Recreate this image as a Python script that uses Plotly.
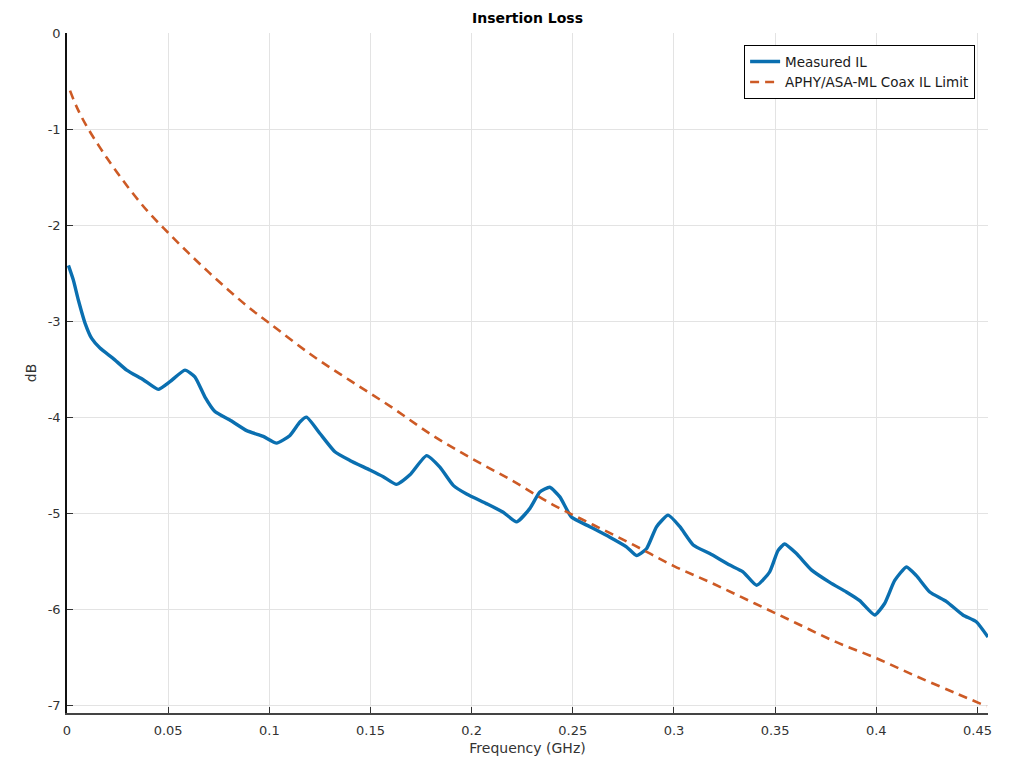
import plotly.graph_objects as go

# Measured insertion loss
meas_f = [0.0007, 0.0031, 0.0056, 0.0089, 0.0122, 0.0163, 0.0229, 0.0295, 0.0377, 0.0451,
          0.0509, 0.0583, 0.0632, 0.0682, 0.0731, 0.0805, 0.0888, 0.0970, 0.1036, 0.1102,
          0.1151, 0.1184, 0.1250, 0.1324, 0.1398, 0.1497, 0.1563, 0.1629, 0.1695, 0.1777,
          0.1843, 0.1909, 0.1975, 0.2073, 0.2156, 0.2222, 0.2288, 0.2337, 0.2386, 0.2436,
          0.2493, 0.2584, 0.2683, 0.2765, 0.2815, 0.2864, 0.2914, 0.2971, 0.3029, 0.3095,
          0.3177, 0.3276, 0.3341, 0.3408, 0.3473, 0.3514, 0.3547, 0.3605, 0.3679, 0.3770,
          0.3852, 0.3918, 0.3992, 0.4041, 0.4091, 0.4149, 0.4198, 0.4264, 0.4347, 0.4428,
          0.4494, 0.4552]
meas_db = [-2.42, -2.57, -2.78, -3.02, -3.18, -3.28, -3.39, -3.51, -3.61, -3.71,
           -3.63, -3.51, -3.58, -3.79, -3.94, -4.03, -4.14, -4.20, -4.27, -4.19,
           -4.05, -4.00, -4.17, -4.36, -4.45, -4.55, -4.62, -4.70, -4.60, -4.40,
           -4.52, -4.71, -4.80, -4.90, -4.99, -5.09, -4.95, -4.78, -4.73, -4.83,
           -5.04, -5.14, -5.25, -5.35, -5.44, -5.37, -5.14, -5.02, -5.14, -5.33,
           -5.42, -5.54, -5.61, -5.75, -5.61, -5.39, -5.32, -5.42, -5.59, -5.72,
           -5.82, -5.91, -6.06, -5.94, -5.70, -5.56, -5.65, -5.82, -5.92, -6.06,
           -6.13, -6.29]

# APHY/ASA-ML coax IL limit
lim_f = [0.0015, 0.005, 0.01, 0.02, 0.03, 0.04, 0.05, 0.06, 0.07, 0.08, 0.09, 0.10,
         0.12, 0.14, 0.16, 0.18, 0.20, 0.22, 0.24, 0.26, 0.28, 0.30, 0.32, 0.34,
         0.36, 0.38, 0.40, 0.42, 0.44, 0.4545]
lim_db = [-0.60, -0.78, -0.98, -1.31, -1.60, -1.86, -2.08, -2.29, -2.49, -2.68, -2.86, -3.02,
          -3.34, -3.62, -3.89, -4.18, -4.43, -4.66, -4.91, -5.12, -5.33, -5.55, -5.74, -5.94,
          -6.14, -6.34, -6.51, -6.70, -6.88, -7.01]

x_ticks = [0, 0.05, 0.1, 0.15, 0.2, 0.25, 0.3, 0.35, 0.4, 0.45]
x_tick_text = ["0", "0.05", "0.1", "0.15", "0.2", "0.25", "0.3", "0.35", "0.4", "0.45"]
y_ticks = [0, -1, -2, -3, -4, -5, -6, -7]
y_tick_text = ["0", "-1", "-2", "-3", "-4", "-5", "-6", "-7"]

FONT = "DejaVu Sans"

fig = go.Figure()
fig.add_trace(go.Scatter(
    x=meas_f, y=meas_db, mode="lines", name="Measured IL",
    line=dict(color="#0A6FB0", width=3.4, shape="spline", smoothing=0.5)))
fig.add_trace(go.Scatter(
    x=lim_f, y=lim_db, mode="lines", name="APHY/ASA-ML Coax IL Limit",
    line=dict(color="#CD5A25", width=2.6, dash="9px,6px", shape="spline")))

fig.update_layout(
    width=1009, height=761,
    margin=dict(l=67, r=21, t=33, b=48, autoexpand=False),
    paper_bgcolor="white", plot_bgcolor="white",
    font=dict(family=FONT, size=13, color="#333333"),
    title=dict(text="<b>Insertion Loss</b>", x=0.5, xref="paper", y=1 - 18 / 761,
               yanchor="middle", xanchor="center", font=dict(size=14, color="#000000")),
    showlegend=True,
    legend=dict(x=0.986, y=0.982, xanchor="right", yanchor="top",
                bgcolor="white", bordercolor="#000000", borderwidth=1,
                font=dict(size=13.5, color="#1a1a1a"), tracegroupgap=0,
                itemwidth=30),
)
fig.update_xaxes(
    range=[0, 0.4552], tickvals=x_ticks, ticktext=x_tick_text,
    showgrid=True, gridcolor="#e3e3e3", gridwidth=1,
    showline=True, linecolor="#444444", linewidth=1.5,
    ticks="inside", ticklen=6, tickcolor="#333333",
    ticklabelstandoff=5, automargin=False,
    zeroline=False,
    title=dict(text="Frequency (GHz)", standoff=6, font=dict(size=14, color="#333333")),
)
fig.update_yaxes(
    range=[-7.08, 0], tickvals=y_ticks, ticktext=y_tick_text,
    showgrid=True, gridcolor="#e3e3e3", gridwidth=1,
    showline=True, linecolor="#111111", linewidth=1.5,
    ticks="inside", ticklen=6, tickcolor="#333333",
    ticklabelstandoff=2, automargin=False,
    zeroline=False,
    title=dict(text="dB", standoff=8, font=dict(size=14, color="#333333")),
)

fig.write_html("out.html")
